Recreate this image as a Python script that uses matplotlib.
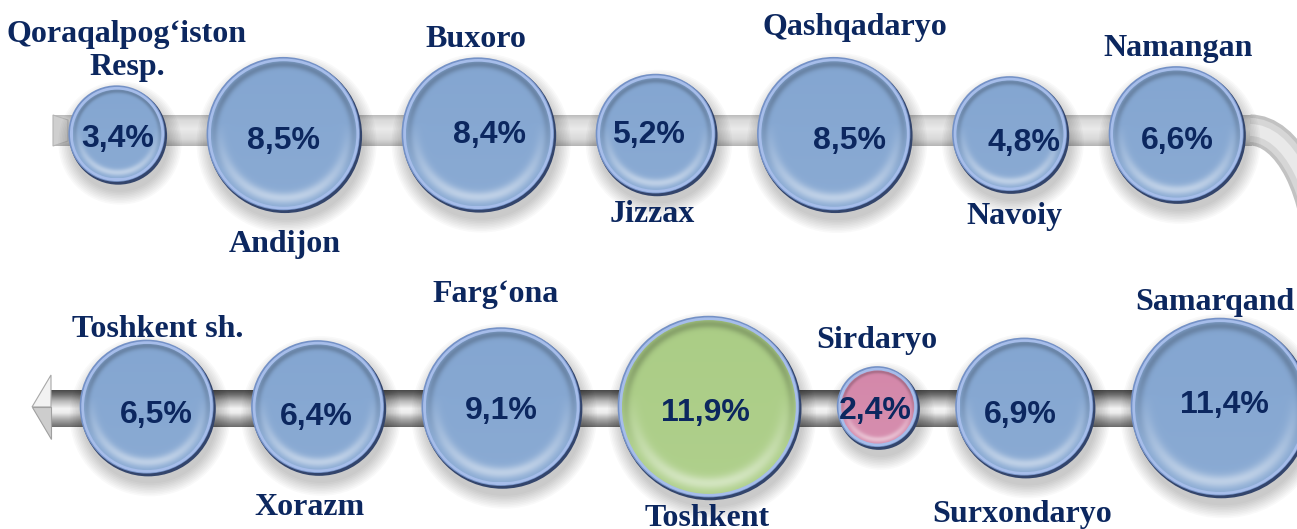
import numpy as np
import matplotlib.pyplot as plt
from matplotlib.patches import Circle, Polygon, Arc
from matplotlib.colors import to_rgb

# top row, read left to right
top_regions = ["Qoraqalpog‘iston\nResp.", "Andijon", "Buxoro", "Jizzax",
               "Qashqadaryo", "Navoiy", "Namangan"]
top_values = [3.4, 8.5, 8.4, 5.2, 8.5, 4.8, 6.6]
# bottom row, read right to left (the pipe bends back)
bottom_regions = ["Samarqand", "Surxondaryo", "Sirdaryo", "Toshkent",
                  "Farg‘ona", "Xorazm", "Toshkent sh."]
bottom_values = [11.4, 6.9, 2.4, 11.9, 9.1, 6.4, 6.5]

# layout (pixel units)
W, H = 1297, 529
K = 26.5            # bubble radius per sqrt(percent) -> area ~ value
TOP_Y, BOT_Y = 134, 407
top_label_nudge = [(10, 0), (1, 9), (-2, 0), (-4, -4), (21, -12), (5, 0), (1, 0)]
bot_label_nudge = [(-5, 2), (-2, 13), (-1, -8), (-2, -4), (-6, -15), (-9, 9), (11, 8)]
top_pct_nudge = [(1, 2), (0, 3), (11, -2), (-7, -2), (15, 4), (14, 6), (1, 3)]
bot_pct_nudge = [(4, -5), (-4, 5), (-2, 1), (-3, 2), (0, 0), (-2, 6), (9, 5)]

NAVY = '#0c275f'
BLUE, GREEN, PINK = '#84a6d1', '#abcd86', '#d488aa'


def pack(values, start, gap, direction):
    radii = [K * np.sqrt(v) for v in values]
    xs = [start]
    for a, b in zip(radii[:-1], radii[1:]):
        xs.append(xs[-1] + direction * (a + gap + b))
    return xs, radii


def gradient(stops, n=64):
    pos = [p for p, _ in stops]
    cols = np.array([to_rgb(c) for _, c in stops])
    t = np.linspace(0, 1, n)
    return np.stack([np.interp(t, pos, cols[:, i]) for i in range(3)], axis=-1)[:, None, :]


def bubble(ax, cx, cy, r, base):
    for k in range(9):
        ax.add_patch(Circle((cx + 3, cy + 9), r + 1.6 * k, color='k', alpha=0.024, lw=0, zorder=3))
    ax.add_patch(Circle((cx + 1.2, cy + 1.8), r, fc='#33456c', lw=0, zorder=4))
    ax.add_patch(Circle((cx - 0.4, cy - 0.4), r - 0.6, fc='#7491c6', lw=0, zorder=4))
    ax.add_patch(Circle((cx, cy), r - 1.8, fc='#a6bdea', lw=0, zorder=4))
    n = 220
    t = np.linspace(-1, 1, n)
    X, Y = np.meshgrid(t, t)
    rho = np.hypot(X, Y)
    img = np.ones((n, n, 3)) * np.array(to_rgb(base))
    glow = np.exp(-((rho - 0.88) / 0.08) ** 2) * np.clip(Y + 0.15, 0, 1)
    dark = np.exp(-((rho - 0.96) / 0.05) ** 2) * np.clip(0.5 - Y, 0, 1)
    img = img + (1 - img) * (0.42 * glow[..., None] + 0.05 * (Y[..., None] + 1) / 2)
    img = img * (1 - 0.2 * dark[..., None])
    ri = r - 4.5
    im = ax.imshow(np.clip(img, 0, 1), extent=(cx - ri, cx + ri, cy + ri, cy - ri),
                   origin='upper', zorder=5, interpolation='bilinear')
    im.set_clip_path(Circle((cx, cy), ri, transform=ax.transData))


fig = plt.figure(figsize=(W / 100, H / 100), dpi=100)
ax = fig.add_axes([0, 0, 1, 1])
ax.axis('off')

# pipes
top_pipe = gradient([(0, '#bdbdbd'), (0.15, '#d9d9d9'), (0.45, '#eaeaea'),
                     (0.78, '#d9d9d9'), (1, '#b6b6b6')])
ax.imshow(top_pipe, extent=(53, 1252, 146, 115), aspect='auto', zorder=1)
for lw, c in [(31, '#c2c2c2'), (24, '#d6d6d6'), (12, '#e9e9e9')]:
    ax.add_patch(Arc((1250, 269), 140, 278, theta1=270, theta2=360,
                     lw=lw * 0.72, color=c, zorder=1))
ax.add_patch(Polygon([(53, 115), (68, 120), (68, 141), (53, 146)], fc='#cfcfcf',
                     ec='#b5b5b5', lw=0.8, zorder=1))

bot_pipe = gradient([(0, '#4a4a4a'), (0.12, '#6f6f6f'), (0.3, '#b9b9b9'),
                     (0.5, '#f4f4f4'), (0.62, '#ececec'), (0.8, '#a9a9a9'), (1, '#6e6e6e')])
ax.imshow(bot_pipe, extent=(50, W, 427, 390), aspect='auto', zorder=1)
ax.add_patch(Polygon([(32, 407), (51, 375), (51, 407)], fc='#f2f2f2', ec='#a8a8a8', lw=0.8, zorder=2))
ax.add_patch(Polygon([(32, 407), (51, 407), (51, 439)], fc='#cdcdcd', ec='#a0a0a0', lw=0.8, zorder=2))

vmax = max(top_values + bottom_values)
vmin = min(top_values + bottom_values)

rows = [
    (top_regions, top_values, pack(top_values, 117, 40.5, 1), TOP_Y, top_label_nudge, top_pct_nudge),
    (bottom_regions, bottom_values, pack(bottom_values, 1220, 36.3, -1), BOT_Y, bot_label_nudge, bot_pct_nudge),
]
for regions, values, (xs, radii), cy, lnudge, pnudge in rows:
    for i, (name, v, cx, r) in enumerate(zip(regions, values, xs, radii)):
        color = GREEN if v == vmax else PINK if v == vmin else BLUE
        bubble(ax, cx, cy, r, color)
        pdx, pdy = pnudge[i]
        ax.text(cx + pdx, cy + pdy + 11.5, f"{v:.1f}%".replace('.', ','), ha='center',
                va='baseline', fontsize=23, fontweight='bold', family='Liberation Sans',
                color=NAVY, zorder=6)
        ldx, ldy = lnudge[i]
        if i % 2 == 0:
            ax.text(cx + ldx, cy - r - 3 + ldy, name, ha='center', va='bottom',
                    fontsize=23, fontweight='bold', family='Liberation Serif',
                    color=NAVY, linespacing=1.2, zorder=6)
        else:
            ax.text(cx + ldx, cy + r + 10 + ldy, name, ha='center', va='top',
                    fontsize=23, fontweight='bold', family='Liberation Serif',
                    color=NAVY, zorder=6)

ax.set_xlim(0, W)
ax.set_ylim(H, 0)
ax.set_aspect('auto')
fig.savefig('out.png', dpi=100)
